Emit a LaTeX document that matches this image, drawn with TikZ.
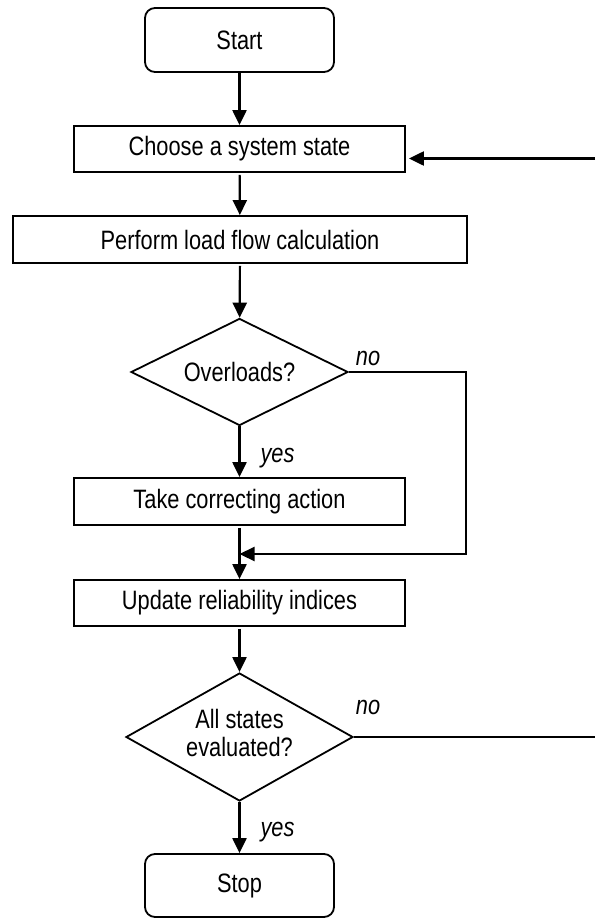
\documentclass[tikz,border=0pt]{standalone}
\usepackage{fontspec}
\usepackage{graphicx}
\setmainfont{Liberation Sans}
\usetikzlibrary{shapes.geometric,arrows.meta}
\newcommand{\vtxt}[1]{\scalebox{1}[1.22]{#1}}
\begin{document}
\begin{tikzpicture}[x=1pt,y=-1pt,
  every node/.style={font=\fontsize{21.8}{23}\selectfont},
  box/.style={draw,line width=1.8pt,inner sep=0pt,minimum width=331pt,minimum height=46pt},
  term/.style={draw,line width=1.8pt,rounded corners=10pt,inner sep=0pt,minimum width=189pt,minimum height=64pt},
  decide/.style={draw,diamond,line width=1.8pt,inner sep=0pt,align=center},
  flow/.style={line width=2.2pt,-{Triangle[length=15pt,width=14pt]}},
  conn/.style={line width=2.2pt},
  lbl/.style={font=\fontsize{21.8}{23}\selectfont\itshape}
]
\useasboundingbox (0,0) rectangle (595,918);

\node[term] (start) at (239.5,40) {\vtxt{Start}};
\node[box] (choose) at (239.5,149) {\vtxt{Choose a system state}};
\node[box,minimum width=454pt,minimum height=47pt] (perform) at (240,239.5) {\vtxt{Perform load flow calculation}};
\node[decide,minimum width=217pt,minimum height=107pt,aspect=2.03] (over) at (239.5,372) {\vtxt{Overloads?}};
\node[box,minimum height=47pt] (take) at (239.5,501.5) {\vtxt{Take correcting action}};
\node[box] (update) at (239.5,603) {\vtxt{Update reliability indices}};
\node[decide,minimum width=227pt,minimum height=128pt,aspect=1.77] (all) at (239.5,737) {\vtxt{\begin{tabular}{@{}c@{}}All states\\evaluated?\end{tabular}}};
\node[term,minimum height=63pt] (stop) at (239.5,885.5) {\vtxt{Stop}};

\node[lbl,anchor=base] (no1) at (368,365) {\vtxt{no}};
\node[lbl,anchor=base west] (yes1) at (257,462) {\vtxt{yes}};
\node[lbl,anchor=base] (no2) at (368,714) {\vtxt{no}};
\node[lbl,anchor=base west] (yes2) at (257,836.5) {\vtxt{yes}};

\coordinate (m) at (239.5,554);
\coordinate (c1) at (466,554);
\coordinate (r1) at (595,737);
\coordinate (r2) at (595,158.5);

\draw[flow] (start) -- (choose);
\draw[flow,shorten <=2pt] (choose) -- (perform);
\draw[flow,shorten <=2pt] (perform) -- (over);
\draw[flow] (over) -- (take);
\draw[flow,shorten <=2pt] (take) -- (update);
\draw[flow,shorten <=2pt] (update) -- (all);
\draw[flow] (all) -- (stop);
\draw[flow] (over.east) -| (c1) -- (m);
\draw[conn] (all.east) -- (r1);
\draw[flow,shorten >=3pt] (r2) -- (choose.east |- r2);
\end{tikzpicture}
\end{document}
